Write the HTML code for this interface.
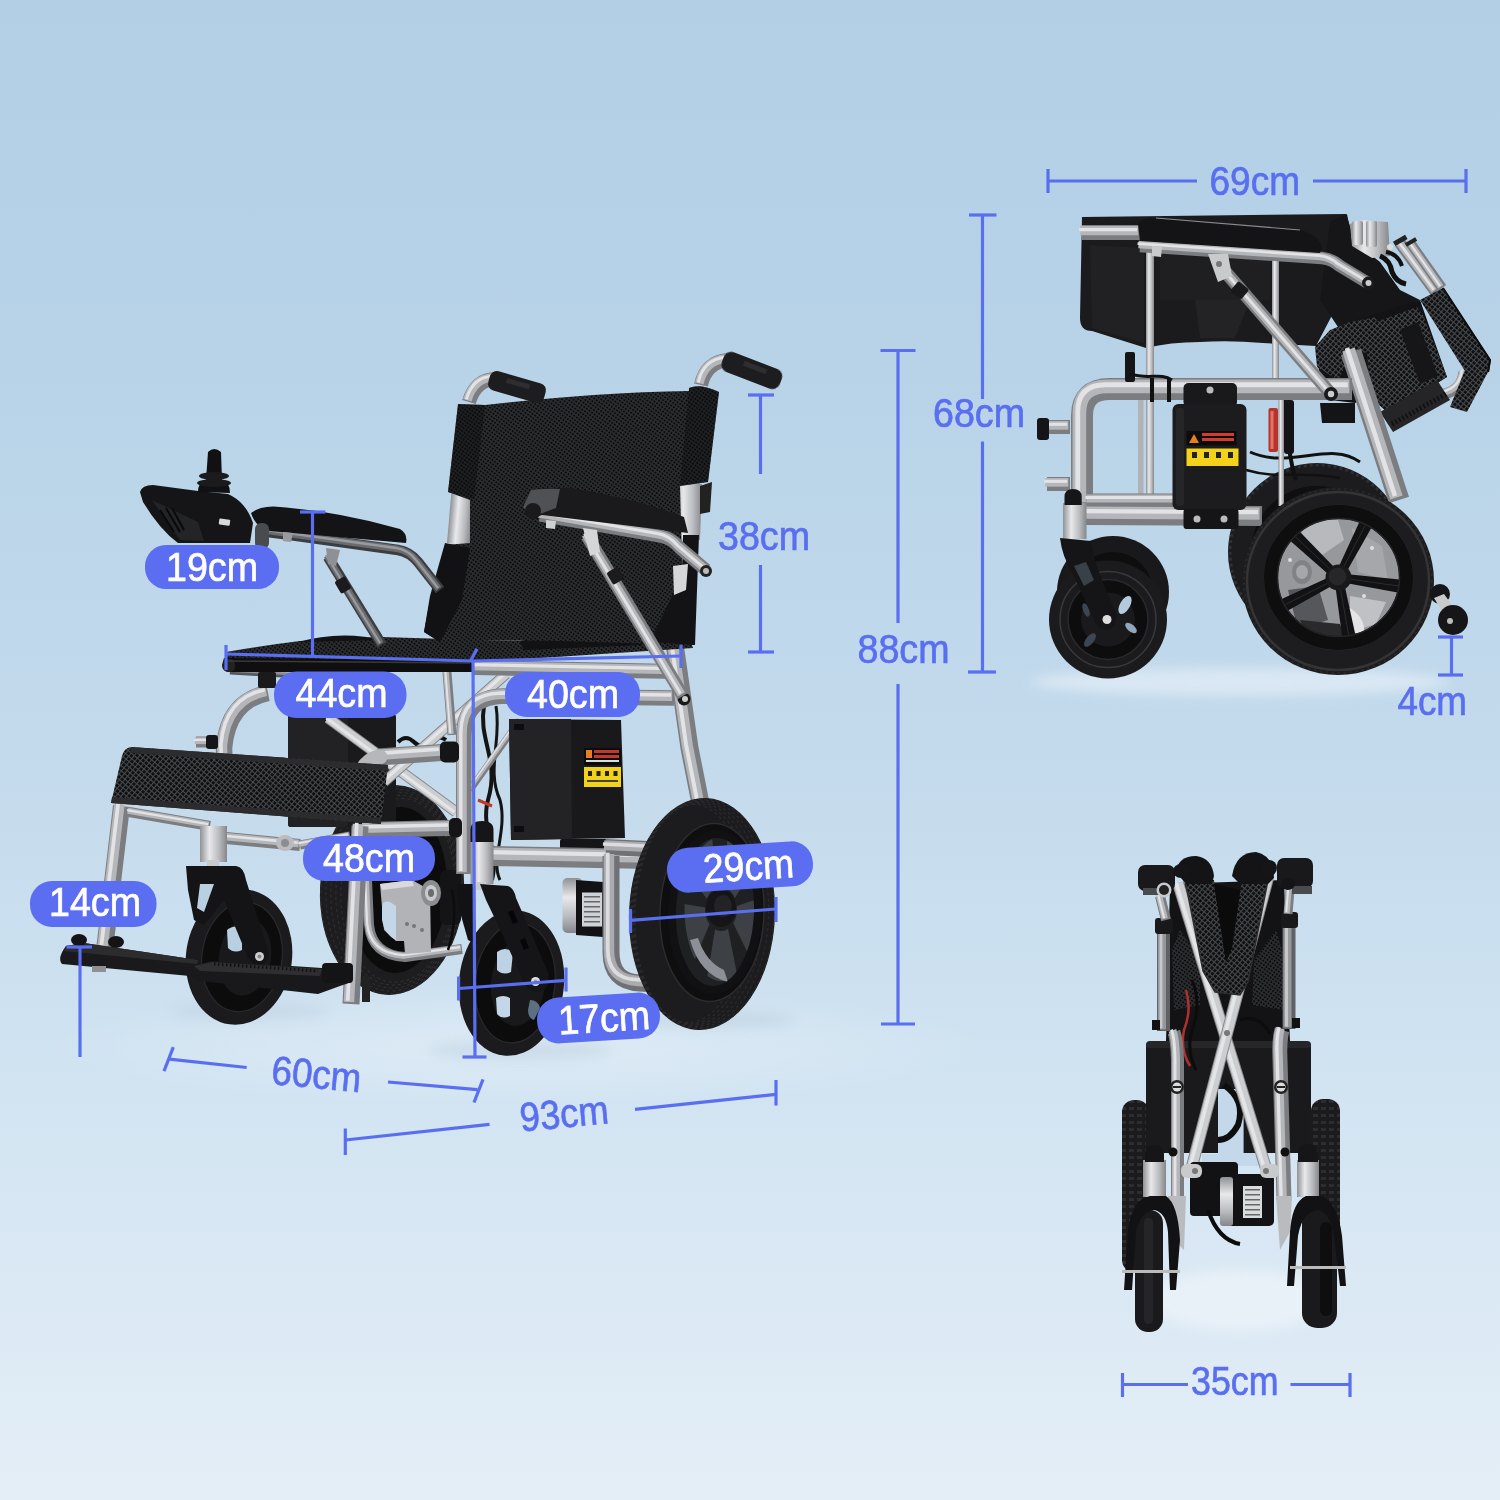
<!DOCTYPE html>
<html><head><meta charset="utf-8"><title>Wheelchair dimensions</title>
<style>
html,body{margin:0;padding:0;width:1500px;height:1500px;overflow:hidden;background:#b3d0e6}
svg{display:block;position:absolute;left:0;top:0}
text{font-family:"Liberation Sans",sans-serif}
.dl{stroke:#5a6ef0;stroke-width:3.2;fill:none;stroke-linecap:butt}
.bt{fill:#5a6ef0;font-size:40.5px;stroke:#5a6ef0;stroke-width:0.7px}
.wt{fill:#fff;font-size:40.5px;stroke:#fff;stroke-width:0.7px}
.pill{fill:#5b6df0}
</style></head><body>
<svg width="1500" height="1500" viewBox="0 0 1500 1500">
<defs>
<linearGradient id="bgv" x1="0" y1="0" x2="0" y2="1">
<stop offset="0" stop-color="#b2cfe6"/>
<stop offset="0.25" stop-color="#b8d3e8"/>
<stop offset="0.5" stop-color="#c3daec"/>
<stop offset="0.667" stop-color="#cde1f0"/>
<stop offset="0.733" stop-color="#d2e4f2"/>
<stop offset="0.867" stop-color="#dbe9f4"/>
<stop offset="1" stop-color="#e4eef7"/>
</linearGradient>
<radialGradient id="bgr" gradientUnits="userSpaceOnUse" cx="0" cy="0" r="1" gradientTransform="translate(520 1045) scale(480 60)">
<stop offset="0" stop-color="#ffffff" stop-opacity="0.28"/>
<stop offset="0.6" stop-color="#ffffff" stop-opacity="0.14"/>
<stop offset="1" stop-color="#ffffff" stop-opacity="0"/>
</radialGradient>
<pattern id="mesh" width="3.2" height="3.2" patternUnits="userSpaceOnUse" patternTransform="rotate(35)">
<rect width="3.2" height="3.2" fill="#2c2e31"/><circle cx="1.6" cy="1.6" r="1.08" fill="#09090a"/>
</pattern>
<pattern id="mesh2" width="4" height="4" patternUnits="userSpaceOnUse" patternTransform="rotate(40)">
<rect width="4" height="4" fill="#0d0d0e"/><rect x="0" y="0" width="4" height="1.1" fill="#47494d"/><rect x="0" y="0" width="1.1" height="4" fill="#47494d"/>
</pattern>
<linearGradient id="silv" x1="0" y1="0" x2="1" y2="0">
<stop offset="0" stop-color="#8f9195"/><stop offset="0.35" stop-color="#e9e9eb"/><stop offset="0.7" stop-color="#b9bbbe"/><stop offset="1" stop-color="#84868a"/>
</linearGradient>
<linearGradient id="silh" x1="0" y1="0" x2="0" y2="1">
<stop offset="0" stop-color="#8f9195"/><stop offset="0.35" stop-color="#e9e9eb"/><stop offset="0.7" stop-color="#b9bbbe"/><stop offset="1" stop-color="#84868a"/>
</linearGradient>
<filter id="blur6" x="-20%" y="-100%" width="140%" height="300%"><feGaussianBlur stdDeviation="6"/></filter>
<pattern id="tread" width="8" height="7" patternUnits="userSpaceOnUse"><rect width="8" height="7" fill="#1b1b1d"/><rect x="1" y="1" width="5" height="3" fill="#2d2d30"/></pattern>
</defs>
<!-- BG -->
<rect width="1500" height="1500" fill="url(#bgv)"/>
<rect width="1500" height="1500" fill="url(#bgr)"/>
<g id="chair1">
<g opacity="0.25">
<ellipse cx="520" cy="1050" rx="90" ry="9" fill="#9fb4c8" filter="url(#blur6)"/>
<ellipse cx="250" cy="1012" rx="80" ry="8" fill="#a9bdd0" filter="url(#blur6)"/>
<ellipse cx="720" cy="1020" rx="75" ry="8" fill="#9fb4c8" filter="url(#blur6)"/>
</g>
<ellipse cx="392" cy="890" rx="72" ry="105" fill="#1d1d1f" transform="rotate(3 392 890)" />
<g transform="rotate(3 392 890)" fill="none" stroke="#2e2e31" stroke-width="1.2">
<ellipse cx="392" cy="890" rx="71" ry="104" stroke-dasharray="3 3"/>
<ellipse cx="393.5" cy="890" rx="67.5" ry="101" stroke-dasharray="3 3"/>
<ellipse cx="395" cy="890" rx="64" ry="98" stroke-dasharray="3 3"/>
<ellipse cx="396.5" cy="890" rx="60.5" ry="95" stroke-dasharray="3 3"/>
<ellipse cx="398" cy="890" rx="57" ry="92" stroke-dasharray="3 3"/>
</g>
<ellipse cx="398" cy="890" rx="49" ry="83" fill="#0c0c0d" transform="rotate(3 398 890)" />
<path d="M367 880 L369 925 Q372 955 405 957 L462 949" fill="none" stroke="#7b7d81" stroke-width="10" stroke-linecap="butt" stroke-linejoin="round"/>
<path d="M367 880 L369 925 Q372 955 405 957 L462 949" fill="none" stroke="#b4b6b9" stroke-width="6.2" stroke-linecap="butt" stroke-linejoin="round" transform="translate(-1.2 -1.2)"/>
<path d="M367 880 L369 925 Q372 955 405 957 L462 949" fill="none" stroke="#e3e3e5" stroke-width="2.2" stroke-linecap="butt" stroke-linejoin="round" transform="translate(-1.92 -1.92)"/>
<path d="M380 884 L412 880 L430 890 L431 952 L405 954 L404 941 L396 941 L384 930 Z" fill="#b1b3b6" />
<path d="M382 908 Q382 900 390 902 L396 906 L396 940 Q384 934 382 920 Z" fill="#c3d7e8" />
<path d="M380 884 L412 880 L414 886 L382 890 Z" fill="#d9dadc" />
<ellipse cx="407" cy="924" rx="2" ry="2" fill="#777" />
<ellipse cx="414" cy="926" rx="2" ry="2" fill="#777" />
<ellipse cx="422" cy="930" rx="2" ry="2" fill="#777" />
<rect x="440" y="870" width="21" height="55" rx="6" fill="#141416" />
<ellipse cx="431" cy="893" rx="10" ry="13" fill="#8a8c90" />
<ellipse cx="431" cy="893" rx="6" ry="8" fill="#c9cacc" />
<ellipse cx="431" cy="893" rx="3" ry="4" fill="#6a6c70" />
<path d="M452 890 q6 30 -4 60" fill="none" stroke="#0c0c0c" stroke-width="2.5"/>
<rect x="288" y="714" width="108" height="113" rx="3" fill="#1a1a1c" />
<rect x="288" y="714" width="60" height="113" rx="3" fill="#222224" />
<path d="M398 742 q8 -8 16 0 t16 0 t16 -2" fill="none" stroke="#111" stroke-width="4"/>
<path d="M398 756 q8 -8 16 0 t16 0 t14 -2" fill="none" stroke="#111" stroke-width="3"/>
<path d="M484 706 C478 740 500 760 488 800 C480 830 500 850 492 880" fill="none" stroke="#141414" stroke-width="4"/>
<path d="M496 706 C502 740 486 770 500 800 C508 830 490 860 500 880" fill="none" stroke="#141414" stroke-width="3"/>
<path d="M478 800 l14 6" fill="none" stroke="#c0392b" stroke-width="3"/>
<path d="M328 718 L456 812" fill="none" stroke="#85878b" stroke-width="11"/>
<path d="M328 718 L456 812" fill="none" stroke="#cbcdd0" stroke-width="9"/>
<path d="M328 718 L456 812" fill="none" stroke="#e4e5e7" stroke-width="3.3" transform="translate(-1.65 0)"/>
<path d="M506 674 L384 782" fill="none" stroke="#85878b" stroke-width="11"/>
<path d="M506 674 L384 782" fill="none" stroke="#cbcdd0" stroke-width="9"/>
<path d="M506 674 L384 782" fill="none" stroke="#e4e5e7" stroke-width="3.3" transform="translate(-1.65 0)"/>
<path d="M520 720 L470 790" fill="none" stroke="#7b7d81" stroke-width="7" stroke-linecap="butt" stroke-linejoin="round"/>
<path d="M520 720 L470 790" fill="none" stroke="#b4b6b9" stroke-width="4.34" stroke-linecap="butt" stroke-linejoin="round" transform="translate(-0.84 -0.84)"/>
<path d="M520 720 L470 790" fill="none" stroke="#e3e3e5" stroke-width="1.54" stroke-linecap="butt" stroke-linejoin="round" transform="translate(-1.344 -1.344)"/>
<path d="M447 672 L452 735" fill="none" stroke="#7b7d81" stroke-width="9" stroke-linecap="butt" stroke-linejoin="round"/>
<path d="M447 672 L452 735" fill="none" stroke="#b4b6b9" stroke-width="5.58" stroke-linecap="butt" stroke-linejoin="round" transform="translate(-1.08 -1.08)"/>
<path d="M447 672 L452 735" fill="none" stroke="#e3e3e5" stroke-width="1.98" stroke-linecap="butt" stroke-linejoin="round" transform="translate(-1.728 -1.728)"/>
<polygon points="509,719 621,720 625,838 511,840" fill="#19191b" />
<polygon points="509,719 571,719 572,839 511,840" fill="#232325" />
<rect x="584" y="748" width="37" height="17" rx="0" fill="#0c0c0c" />
<rect x="586" y="750" width="6" height="8" rx="0" fill="#e67e22" />
<rect x="594" y="750" width="25" height="3" rx="0" fill="#c0392b" />
<rect x="594" y="755" width="25" height="3" rx="0" fill="#c0392b" />
<rect x="586" y="760" width="33" height="2" rx="0" fill="#ddd" />
<rect x="584" y="767" width="37" height="20" rx="0" fill="#f2d21b" />
<rect x="588" y="771" width="4" height="5" rx="0" fill="#222" />
<rect x="596.5" y="771" width="4" height="5" rx="0" fill="#222" />
<rect x="605" y="771" width="4" height="5" rx="0" fill="#222" />
<rect x="613.5" y="771" width="4" height="5" rx="0" fill="#222" />
<rect x="587" y="780" width="31" height="2" rx="0" fill="#444" />
<rect x="560" y="839" width="47" height="25" rx="2" fill="#151517" />
<ellipse cx="578" cy="853" rx="3.5" ry="3.5" fill="#bbb" />
<ellipse cx="596" cy="853" rx="3.5" ry="3.5" fill="#bbb" />
<rect x="514" y="724" width="10" height="6" rx="0" fill="#0d0d0d" />
<rect x="514" y="826" width="10" height="6" rx="0" fill="#0d0d0d" />
<path d="M492 856 L650 859" fill="none" stroke="#7b7d81" stroke-width="20" stroke-linecap="butt" stroke-linejoin="round"/>
<path d="M492 856 L650 859" fill="none" stroke="#b4b6b9" stroke-width="12.4" stroke-linecap="butt" stroke-linejoin="round" transform="translate(-2.4 -2.4)"/>
<path d="M492 856 L650 859" fill="none" stroke="#e3e3e5" stroke-width="4.4" stroke-linecap="butt" stroke-linejoin="round" transform="translate(-3.84 -3.84)"/>
<path d="M463.8 874 L463.8 736 Q463.8 697 504 696 L674 698" fill="none" stroke="#7b7d81" stroke-width="15.5" stroke-linecap="butt" stroke-linejoin="round"/>
<path d="M463.8 874 L463.8 736 Q463.8 697 504 696 L674 698" fill="none" stroke="#b4b6b9" stroke-width="9.61" stroke-linecap="butt" stroke-linejoin="round" transform="translate(-1.86 -1.86)"/>
<path d="M463.8 874 L463.8 736 Q463.8 697 504 696 L674 698" fill="none" stroke="#e3e3e5" stroke-width="3.41" stroke-linecap="butt" stroke-linejoin="round" transform="translate(-2.976 -2.976)"/>
<path d="M378 757 L442 752.5" fill="none" stroke="#7b7d81" stroke-width="17" stroke-linecap="butt" stroke-linejoin="round"/>
<path d="M378 757 L442 752.5" fill="none" stroke="#b4b6b9" stroke-width="10.54" stroke-linecap="butt" stroke-linejoin="round" transform="translate(-2.04 -2.04)"/>
<path d="M378 757 L442 752.5" fill="none" stroke="#e3e3e5" stroke-width="3.74" stroke-linecap="butt" stroke-linejoin="round" transform="translate(-3.264 -3.264)"/>
<path d="M380 757 Q368 759 362 770" fill="none" stroke="#b5b7ba" stroke-width="15" stroke-linecap="round"/>
<rect x="440" y="741.5" width="19" height="21" rx="5" fill="#151517" />
<path d="M364 830 L451 828" fill="none" stroke="#7b7d81" stroke-width="16" stroke-linecap="butt" stroke-linejoin="round"/>
<path d="M364 830 L451 828" fill="none" stroke="#b4b6b9" stroke-width="9.92" stroke-linecap="butt" stroke-linejoin="round" transform="translate(-1.92 -1.92)"/>
<path d="M364 830 L451 828" fill="none" stroke="#e3e3e5" stroke-width="3.52" stroke-linecap="butt" stroke-linejoin="round" transform="translate(-3.072 -3.072)"/>
<rect x="449" y="818" width="13" height="19.5" rx="5" fill="#151517" />
<path d="M474 667.5 L676 671.5" fill="none" stroke="#7b7d81" stroke-width="15" stroke-linecap="butt" stroke-linejoin="round"/>
<path d="M474 667.5 L676 671.5" fill="none" stroke="#b4b6b9" stroke-width="9.3" stroke-linecap="butt" stroke-linejoin="round" transform="translate(-1.8 -1.8)"/>
<path d="M474 667.5 L676 671.5" fill="none" stroke="#e3e3e5" stroke-width="3.3" stroke-linecap="butt" stroke-linejoin="round" transform="translate(-2.88 -2.88)"/>
<path d="M674 640 L689.5 748 L701 806" fill="none" stroke="#7b7d81" stroke-width="18" stroke-linecap="butt" stroke-linejoin="round"/>
<path d="M674 640 L689.5 748 L701 806" fill="none" stroke="#b4b6b9" stroke-width="11.16" stroke-linecap="butt" stroke-linejoin="round" transform="translate(-2.16 -2.16)"/>
<path d="M674 640 L689.5 748 L701 806" fill="none" stroke="#e3e3e5" stroke-width="3.96" stroke-linecap="butt" stroke-linejoin="round" transform="translate(-3.456 -3.456)"/>
<ellipse cx="684" cy="699" rx="6.5" ry="6.5" fill="#1a1a1c" />
<ellipse cx="685" cy="699" rx="3" ry="3" fill="#ccc" />
<path d="M268 693 Q228 701 224 748 L225 770" fill="none" stroke="#7b7d81" stroke-width="16.5" stroke-linecap="butt" stroke-linejoin="round"/>
<path d="M268 693 Q228 701 224 748 L225 770" fill="none" stroke="#b4b6b9" stroke-width="10.23" stroke-linecap="butt" stroke-linejoin="round" transform="translate(-1.98 -1.98)"/>
<path d="M268 693 Q228 701 224 748 L225 770" fill="none" stroke="#e3e3e5" stroke-width="3.63" stroke-linecap="butt" stroke-linejoin="round" transform="translate(-3.168 -3.168)"/>
<path d="M230 670 L300 674" fill="none" stroke="#55575a" stroke-width="9" stroke-linecap="butt" stroke-linejoin="round"/>
<path d="M230 670 L300 674" fill="none" stroke="#8c8e91" stroke-width="5.58" stroke-linecap="butt" stroke-linejoin="round" transform="translate(-1.08 -1.08)"/>
<path d="M230 670 L300 674" fill="none" stroke="#b5b6b8" stroke-width="1.98" stroke-linecap="butt" stroke-linejoin="round" transform="translate(-1.728 -1.728)"/>
<rect x="258" y="672" width="18" height="16" rx="2" fill="#1a1a1c" />
<path d="M196 742 L214 742" fill="none" stroke="#7b7d81" stroke-width="11" stroke-linecap="butt" stroke-linejoin="round"/>
<path d="M196 742 L214 742" fill="none" stroke="#b4b6b9" stroke-width="6.82" stroke-linecap="butt" stroke-linejoin="round" transform="translate(-1.32 -1.32)"/>
<path d="M196 742 L214 742" fill="none" stroke="#e3e3e5" stroke-width="2.42" stroke-linecap="butt" stroke-linejoin="round" transform="translate(-2.112 -2.112)"/>
<rect x="206" y="735" width="12" height="14" rx="3" fill="#151517" />
<rect x="470.5" y="840" width="23" height="44" rx="0" fill="url(#silv)" />
<path d="M470.5 842 L470.5 830 Q470.5 821 482 821 Q493.5 821 493.5 830 L493.5 842 Z" fill="#161618" />
<rect x="476" y="882" width="10" height="8" rx="0" fill="#c9cacc" />
<path d="M226 652 Q260 646 300 641 L382 637 L480 640 L560 641 L690 640 L693 648 L480 662 L228 662 Z" fill="url(#mesh)" />
<path d="M298 642 Q340 630 384 640 Z" fill="#131315" />
<path d="M224 658 L472 660 L472 672 L230 672 Q222 672 222 665 Z" fill="#0f0f10" />
<rect x="223" y="659" width="12" height="13" rx="5" fill="#222" />
<path d="M228 661 L470 663" fill="none" stroke="#3a3a3c" stroke-width="1.5"/>
<path d="M520 642 Q540 630 580 634 L640 632 L642 645 L524 650 Z" fill="#121214" />
<rect x="449" y="494" width="23" height="50" rx="0" fill="url(#silv)" transform="rotate(5 460 520)"/>
<polygon points="675,482 702,484 700,540 673,538" fill="url(#silv)" />
<polygon points="700,486 712,482 710,512 700,514" fill="#222" />
<rect x="672" y="565" width="16" height="34" rx="0" fill="url(#silv)" transform="rotate(6 680 582)"/>
<path d="M458 404 L485 405 Q600 392 689 391 L689 388 Q700 383 719 392 L708 482 L680 486 L682 560 L694 645 L560 641 L480 640 L440 642 L424 632 L430 600 L445 545 L470 543 L470 500 L448 492 Z" fill="url(#mesh)" />
<path d="M458 404 L485 405 L474 499 L448 492 Z" fill="#0d0d0e" opacity="0.45"/>
<path d="M689 388 Q700 383 719 392 L708 482 L680 486 Z" fill="#0d0d0e" opacity="0.4"/>
<path d="M445 543 L470 548 L462 600 L440 642 L424 632 L430 596 Z" fill="#121214" />
<path d="M683 535 L699 535 L697 590 L695 645 L650 642 L682 575 Z" fill="#131315" />
<path d="M673 566 L688 564 L686 590 L674 595 Z" fill="#d5d6d8" />
<path d="M469 402 Q476 378 498 379" fill="none" stroke="#7b7d81" stroke-width="14" stroke-linecap="butt" stroke-linejoin="round"/>
<path d="M469 402 Q476 378 498 379" fill="none" stroke="#b4b6b9" stroke-width="8.68" stroke-linecap="butt" stroke-linejoin="round" transform="translate(-1.68 -1.68)"/>
<path d="M469 402 Q476 378 498 379" fill="none" stroke="#e3e3e5" stroke-width="3.08" stroke-linecap="butt" stroke-linejoin="round" transform="translate(-2.688 -2.688)"/>
<g transform="rotate(16 517 387)"><rect x="488" y="377" width="58" height="20" rx="7" fill="#1d1d1f"/><rect x="505" y="381" width="24" height="5" fill="#2e2e30"/></g>
<path d="M701 385 Q706 362 728 360" fill="none" stroke="#7b7d81" stroke-width="14" stroke-linecap="butt" stroke-linejoin="round"/>
<path d="M701 385 Q706 362 728 360" fill="none" stroke="#b4b6b9" stroke-width="8.68" stroke-linecap="butt" stroke-linejoin="round" transform="translate(-1.68 -1.68)"/>
<path d="M701 385 Q706 362 728 360" fill="none" stroke="#e3e3e5" stroke-width="3.08" stroke-linecap="butt" stroke-linejoin="round" transform="translate(-2.688 -2.688)"/>
<g transform="rotate(21 752 370)"><rect x="721" y="360" width="62" height="21" rx="8" fill="#1d1d1f"/><rect x="742" y="364" width="24" height="5" fill="#2e2e30"/></g>
<path d="M268 532 L398 550 Q410 552 418 562 L440 590" fill="none" stroke="#3c3d40" stroke-width="10.5" stroke-linecap="butt" stroke-linejoin="round"/>
<path d="M268 532 L398 550 Q410 552 418 562 L440 590" fill="none" stroke="#6b6c70" stroke-width="6.51" stroke-linecap="butt" stroke-linejoin="round" transform="translate(-1.26 -1.26)"/>
<path d="M268 532 L398 550 Q410 552 418 562 L440 590" fill="none" stroke="#9a9b9f" stroke-width="2.31" stroke-linecap="butt" stroke-linejoin="round" transform="translate(-2.016 -2.016)"/>
<path d="M328 557 L382 645" fill="none" stroke="#3c3d40" stroke-width="10.5" stroke-linecap="butt" stroke-linejoin="round"/>
<path d="M328 557 L382 645" fill="none" stroke="#6b6c70" stroke-width="6.51" stroke-linecap="butt" stroke-linejoin="round" transform="translate(-1.26 -1.26)"/>
<path d="M328 557 L382 645" fill="none" stroke="#9a9b9f" stroke-width="2.31" stroke-linecap="butt" stroke-linejoin="round" transform="translate(-2.016 -2.016)"/>
<rect x="337" y="578" width="12" height="14" rx="2" fill="#1b1b1d" transform="rotate(-30 343 585)"/>
<path d="M326 548 L340 550 L336 566 L328 564 Z" fill="#8e9094" />
<path d="M251 513 Q262 505 280 507 Q340 512 400 529 Q408 534 406 543 L270 531 Q256 528 251 513 Z" fill="#141416" />
<rect x="255" y="523" width="14" height="26" rx="6" fill="#4a4b4e" />
<path d="M283 532 l10 1 l-2 9 l-8 -1 Z" fill="#999b9e" />
<path d="M140 492 Q142 485 153 485 L198 491 L228 494 Q246 502 253 523 L250 543 L178 543 Q160 530 143 502 Z" fill="#151517" />
<path d="M152 500 L180 540 L204 541 L198 522 Z" fill="#232427" />
<path d="M160 510 l14 22 M166 508 l14 24 M172 508 l12 22" fill="none" stroke="#0a0a0b" stroke-width="2"/>
<rect x="219" y="519" width="11" height="6" rx="1" fill="#d8d8d8" transform="rotate(8 224 522)"/>
<path d="M198 492 Q198 482 206 480 L208 452 Q214 446 221 452 L222 480 Q230 482 230 493 Z" fill="#111113" />
<ellipse cx="214" cy="476" rx="15" ry="4" fill="#1b1b1d" />
<ellipse cx="214" cy="483" rx="17" ry="4" fill="#1b1b1d" />
<path d="M540 515 L660 536 Q672 538 680 548 L706 570" fill="none" stroke="#7b7d81" stroke-width="13" stroke-linecap="butt" stroke-linejoin="round"/>
<path d="M540 515 L660 536 Q672 538 680 548 L706 570" fill="none" stroke="#b4b6b9" stroke-width="8.06" stroke-linecap="butt" stroke-linejoin="round" transform="translate(-1.56 -1.56)"/>
<path d="M540 515 L660 536 Q672 538 680 548 L706 570" fill="none" stroke="#e3e3e5" stroke-width="2.86" stroke-linecap="butt" stroke-linejoin="round" transform="translate(-2.496 -2.496)"/>
<ellipse cx="706" cy="571" rx="6" ry="6" fill="#222" />
<ellipse cx="706" cy="571" rx="3" ry="3" fill="#bbb" />
<path d="M587 536 L683 696" fill="none" stroke="#7b7d81" stroke-width="13" stroke-linecap="butt" stroke-linejoin="round"/>
<path d="M587 536 L683 696" fill="none" stroke="#b4b6b9" stroke-width="8.06" stroke-linecap="butt" stroke-linejoin="round" transform="translate(-1.56 -1.56)"/>
<path d="M587 536 L683 696" fill="none" stroke="#e3e3e5" stroke-width="2.86" stroke-linecap="butt" stroke-linejoin="round" transform="translate(-2.496 -2.496)"/>
<path d="M583 528 L597 530 L600 552 L590 556 Z" fill="#d5d6d8" />
<rect x="609" y="569" width="13" height="14" rx="2" fill="#1b1b1d" transform="rotate(-30 615 576)"/>
<path d="M523 507 L531 490 Q550 487 572 488 Q640 500 684 517 L688 533 L542 515 Q530 520 523 507 Z" fill="#1a1a1c" />
<path d="M523 507 L531 490 Q545 488 560 489 L556 508 L540 514 Q530 518 523 507 Z" fill="#505154" />
<ellipse cx="533" cy="511" rx="8" ry="8" fill="#1a1a1c" />
<path d="M546 520 l10 1 l-1 8 l-9 -1 Z" fill="#d0d1d3" />
<path d="M121.5 806 L104.5 950" fill="none" stroke="#7b7d81" stroke-width="17" stroke-linecap="butt" stroke-linejoin="round"/>
<path d="M121.5 806 L104.5 950" fill="none" stroke="#b4b6b9" stroke-width="10.54" stroke-linecap="butt" stroke-linejoin="round" transform="translate(-2.04 -2.04)"/>
<path d="M121.5 806 L104.5 950" fill="none" stroke="#e3e3e5" stroke-width="3.74" stroke-linecap="butt" stroke-linejoin="round" transform="translate(-3.264 -3.264)"/>
<path d="M129 812 L210 826" fill="none" stroke="#7b7d81" stroke-width="10" stroke-linecap="butt" stroke-linejoin="round"/>
<path d="M129 812 L210 826" fill="none" stroke="#b4b6b9" stroke-width="6.2" stroke-linecap="butt" stroke-linejoin="round" transform="translate(-1.2 -1.2)"/>
<path d="M129 812 L210 826" fill="none" stroke="#e3e3e5" stroke-width="2.2" stroke-linecap="butt" stroke-linejoin="round" transform="translate(-1.92 -1.92)"/>
<path d="M226 838 L300 845" fill="none" stroke="#7b7d81" stroke-width="12" stroke-linecap="butt" stroke-linejoin="round"/>
<path d="M226 838 L300 845" fill="none" stroke="#b4b6b9" stroke-width="7.44" stroke-linecap="butt" stroke-linejoin="round" transform="translate(-1.44 -1.44)"/>
<path d="M226 838 L300 845" fill="none" stroke="#e3e3e5" stroke-width="2.64" stroke-linecap="butt" stroke-linejoin="round" transform="translate(-2.304 -2.304)"/>
<path d="M300 845 L350 836" fill="none" stroke="#7b7d81" stroke-width="9" stroke-linecap="butt" stroke-linejoin="round"/>
<path d="M300 845 L350 836" fill="none" stroke="#b4b6b9" stroke-width="5.58" stroke-linecap="butt" stroke-linejoin="round" transform="translate(-1.08 -1.08)"/>
<path d="M300 845 L350 836" fill="none" stroke="#e3e3e5" stroke-width="1.98" stroke-linecap="butt" stroke-linejoin="round" transform="translate(-1.728 -1.728)"/>
<ellipse cx="285" cy="843" rx="9" ry="8" fill="#b9bbbe" />
<ellipse cx="285" cy="843" rx="4" ry="4" fill="#8b8d90" />
<rect x="200" y="826" width="27" height="36" rx="0" fill="url(#silv)" />
<rect x="207" y="860" width="12" height="8" rx="0" fill="#c9cacc" />
<path d="M360 826 L351 1004" fill="none" stroke="#7b7d81" stroke-width="17" stroke-linecap="butt" stroke-linejoin="round"/>
<path d="M360 826 L351 1004" fill="none" stroke="#b4b6b9" stroke-width="10.54" stroke-linecap="butt" stroke-linejoin="round" transform="translate(-2.04 -2.04)"/>
<path d="M360 826 L351 1004" fill="none" stroke="#e3e3e5" stroke-width="3.74" stroke-linecap="butt" stroke-linejoin="round" transform="translate(-3.264 -3.264)"/>
<rect x="362" y="976" width="8" height="26" rx="0" fill="#222" />
<ellipse cx="239" cy="957" rx="53" ry="68" fill="#1b1b1d" transform="rotate(8 239 957)" />
<ellipse cx="242" cy="957" rx="40" ry="55" fill="#0c0c0d" transform="rotate(8 242 957)" stroke="#2a2a2d" stroke-width="1.2"/>
<ellipse cx="245" cy="957" rx="26" ry="39" fill="#19191b" transform="rotate(8 245 957)" />
<path d="M227 930 Q234 924 242 928 L242 950 Q234 954 228 948 Z" fill="#b9cfe2" />
<path d="M224 975 q4 -3 8 0 l0 8 q-4 2 -8 -2 Z" fill="#dfe6ee" />
<path d="M186 866 L236 866 Q244 867 246 880 L268 950 Q270 963 260 965 Q250 965 246 953 L224 900 L204 925 L194 920 L188 890 Z" fill="#141416" />
<path d="M200 884 L214 884 L204 912 L197 908 Z" fill="#b9cfe2" />
<ellipse cx="259.5" cy="956.5" rx="4.5" ry="4.5" fill="#cfcfcf" />
<ellipse cx="259.5" cy="956.5" rx="2" ry="2" fill="#888" />
<path d="M131 747 Q124 748 122 756 L111 803 L381 824 L388 765 Z" fill="url(#mesh2)" />
<path d="M131 747 L388 765 L387 771 L130 753 Z" fill="#2c2c2f" />
<path d="M112 797 L381 818 L381 824 L111 803 Z" fill="#2c2c2f" />
<path d="M66 946 L84 943 L198 960 L198 975 L190 976 L62 964 Q57 958 66 946 Z" fill="#1a1a1c" />
<path d="M66 946 L84 943 L198 960 L197 964 L64 951 Z" fill="#2c2c2f" />
<path d="M192 966 L212 961 L322 968 L352 966 L352 982 L340 986 L318 994 L200 981 L192 976 Z" fill="#19191b" />
<path d="M194 966 L212 962 L322 969 L320 976 L200 971 Z" fill="#2f2f32" />
<path d="M214 964 L318 971" fill="none" stroke="#111" stroke-width="3" stroke-dasharray="1.5 2.5"/>
<rect x="322" y="963" width="31" height="20" rx="4" fill="#141416" />
<ellipse cx="79" cy="940" rx="8" ry="6" fill="#141416" />
<ellipse cx="116" cy="942" rx="8" ry="6" fill="#141416" />
<rect x="92" y="966" width="14" height="6" rx="0" fill="#8e9094" />
<ellipse cx="511.5" cy="983" rx="52.5" ry="73" fill="#1b1b1d" transform="rotate(6 511.5 983)" />
<ellipse cx="515" cy="983" rx="40" ry="60" fill="#0c0c0d" transform="rotate(6 515 983)" stroke="#2a2a2d" stroke-width="1.2"/>
<ellipse cx="518" cy="983" rx="27" ry="43" fill="#19191b" transform="rotate(6 518 983)" />
<path d="M497 952 Q505 946 513 952 L511 972 Q503 976 497 970 Z" fill="#bdd2e4" />
<path d="M496 998 Q503 994 510 998 L510 1016 Q502 1020 497 1014 Z" fill="#c3d7e8" />
<path d="M530 1000 Q538 1000 540 1008 L534 1020 Q528 1018 528 1010 Z" fill="#5d7083" />
<path d="M457 884 L474 884 L476 944 L468 940 L458 905 Z" fill="#121214" />
<path d="M480 884 L508 886 Q514 888 516 898 L548 972 Q551 990 538 992 Q527 992 523 980 L498 925 L486 900 Z" fill="#151517" />
<path d="M508 912 l5 -2 l5 12 l-5 2 Z M520 940 l5 -2 l4 10 l-5 2 Z" fill="#060607" />
<ellipse cx="535.5" cy="981.5" rx="4.5" ry="4.5" fill="#e0e0e0" />
<ellipse cx="535.5" cy="981.5" rx="2" ry="2" fill="#999" />
<rect x="562.5" y="878" width="20" height="55" rx="5" fill="url(#silh)" />
<path d="M576 880 L603 882 L603 937 L576 935 Z" fill="#121214" />
<rect x="582" y="892.5" width="20" height="34" rx="0" fill="#cfd2d6" />
<rect x="584" y="896" width="16" height="1.5" rx="0" fill="#666" />
<rect x="584" y="901" width="16" height="1.5" rx="0" fill="#666" />
<rect x="584" y="906" width="16" height="1.5" rx="0" fill="#666" />
<rect x="584" y="911" width="16" height="1.5" rx="0" fill="#666" />
<rect x="584" y="916" width="16" height="1.5" rx="0" fill="#666" />
<rect x="584" y="921" width="16" height="1.5" rx="0" fill="#666" />
<path d="M606 847 L648 849" fill="none" stroke="#6f7175" stroke-width="16" stroke-linecap="butt" stroke-linejoin="round"/>
<path d="M606 847 L648 849" fill="none" stroke="#a9abae" stroke-width="9.92" stroke-linecap="butt" stroke-linejoin="round" transform="translate(-1.92 -1.92)"/>
<path d="M606 847 L648 849" fill="none" stroke="#dcdcde" stroke-width="3.52" stroke-linecap="butt" stroke-linejoin="round" transform="translate(-3.072 -3.072)"/>
<path d="M611 856 L611 952 Q611 982 640 983 L656 984" fill="none" stroke="#6f7175" stroke-width="17" stroke-linecap="butt" stroke-linejoin="round"/>
<path d="M611 856 L611 952 Q611 982 640 983 L656 984" fill="none" stroke="#a9abae" stroke-width="10.54" stroke-linecap="butt" stroke-linejoin="round" transform="translate(-2.04 -2.04)"/>
<path d="M611 856 L611 952 Q611 982 640 983 L656 984" fill="none" stroke="#dcdcde" stroke-width="3.74" stroke-linecap="butt" stroke-linejoin="round" transform="translate(-3.264 -3.264)"/>
<ellipse cx="702" cy="914" rx="73" ry="116" fill="#1c1c1e" transform="rotate(2 702 914)" />
<g transform="rotate(2 702 914)" fill="none" stroke="#2b2b2e" stroke-width="1.2">
<ellipse cx="702" cy="914" rx="72" ry="115" stroke-dasharray="3 3"/>
<ellipse cx="699.8" cy="914" rx="68.8" ry="113.8" stroke-dasharray="3 3"/>
<ellipse cx="697.6" cy="914" rx="65.6" ry="112.6" stroke-dasharray="3 3"/>
<ellipse cx="695.4" cy="914" rx="62.4" ry="111.4" stroke-dasharray="3 3"/>
<ellipse cx="693.2" cy="914" rx="59.2" ry="110.2" stroke-dasharray="3 3"/>
<ellipse cx="691" cy="914" rx="56" ry="109" stroke-dasharray="3 3"/>
</g>
<ellipse cx="712" cy="912.5" rx="52" ry="89" fill="#0e0e0f" transform="rotate(2 712 912.5)" stroke="#2c2c2f" stroke-width="1.5"/>
<ellipse cx="715" cy="912" rx="43" ry="78" fill="#1f2022" transform="rotate(2 715 912)" />
<g fill="#3d4045">
<polygon points="727.341,837.897 732.285,840.334 737.008,844.107 741.421,849.143 745.435,855.345 748.974,862.591 751.969,870.74 734.856,898 733.608,895.455 732.115,893.175 730.405,891.202 728.512,889.575 726.472,888.327 724.327,887.481"/>
<polygon points="757.163,898.952 757.518,909 757.163,919.048 756.103,928.901 754.361,938.366 751.969,947.26 748.974,955.409 733.257,923.141 734.569,920.658 735.617,917.948 736.38,915.064 736.844,912.062 737,909 736.844,905.938"/>
<polygon points="737.008,973.893 732.285,977.666 727.341,980.103 722.274,981.156 717.183,980.804 712.165,979.055 707.32,975.943 715.006,929.398 717.129,930.347 719.328,930.879 721.558,930.987 723.778,930.666 725.944,929.923 728.014,928.773"/>
<polygon points="694.731,959.154 691.456,951.438 688.757,942.896 686.684,933.694 685.28,924.011 684.571,914.036 684.571,903.964 705.039,907.465 705.039,910.535 705.35,913.574 705.965,916.524 706.873,919.328 708.056,921.931 709.491,924.282"/>
<polygon points="688.757,875.104 691.456,866.562 694.731,858.846 698.517,852.106 702.741,846.473 707.32,842.057 712.165,838.945 717.129,887.653 715.006,888.602 713,889.947 711.149,891.664 709.491,893.718 708.056,896.069 706.873,898.672"/>
</g>
<path d="M690 940 Q700 975 728 982 L724 970 Q706 962 698 938 Z" fill="#8d9096" />
<ellipse cx="715" cy="912" rx="43" ry="78" fill="none" transform="rotate(2 715 912)" stroke="#111113" stroke-width="8"/>
<ellipse cx="721" cy="908" rx="15" ry="19" fill="#151517" />
<ellipse cx="723" cy="906" rx="9" ry="11" fill="#232326" />
</g>
<g id="chair2">
<g opacity="0.55">
<ellipse cx="1240" cy="682" rx="210" ry="14" fill="#eef4fa" filter="url(#blur6)"/>
</g>
<ellipse cx="1317" cy="552" rx="89" ry="89" fill="#1c1c1e" />
<ellipse cx="1317" cy="552" rx="87" ry="87" fill="none" stroke="#303033" stroke-width="3" stroke-dasharray="3 3"/>
<ellipse cx="1317" cy="552" rx="66" ry="66" fill="#0f0f10" />
<ellipse cx="1113" cy="592" rx="56" ry="56" fill="#19191b" />
<ellipse cx="1113" cy="592" rx="40" ry="40" fill="#0e0e0f" />
<rect x="1138" y="394" width="5.5" height="112" rx="0" fill="#b0b2b5" />
<path d="M1250 452 C1290 470 1330 440 1360 462" fill="none" stroke="#111" stroke-width="3"/>
<path d="M1246 470 C1280 480 1300 470 1340 478" fill="none" stroke="#111" stroke-width="2.5"/>
<path d="M1284 400 C1290 430 1286 450 1296 480" fill="none" stroke="#111" stroke-width="4"/>
<path d="M1082 217 L1346 214 L1352 232 L1340 300 L1316 346 L1263 343 Q1230 340 1200 342 Q1170 342 1146 348 L1092 331 Q1080 331 1080 318 Z" fill="#1b1b1d" />
<path d="M1195 300 L1222 275 L1250 300 L1235 338 L1200 338 Z" fill="#232326" />
<path d="M1090 245 L1144 248 L1144 343 L1092 328 Z" fill="#212124" />
<path d="M1160 250 L1270 258 L1270 300 L1160 300 Z" fill="#1f1f22" />
<rect x="1146" y="246" width="8" height="260" rx="0" fill="url(#silv)" />
<rect x="1272" y="258" width="7" height="130" rx="0" fill="url(#silv)" />
<rect x="1278.5" y="398" width="5.5" height="108" rx="0" fill="url(#silv)" />
<rect x="1284" y="400" width="10" height="54" rx="3" fill="#141416" />
<rect x="1268.5" y="408" width="9.5" height="44" rx="2" fill="#b8342a" />
<rect x="1270.5" y="411" width="3" height="38" rx="0" fill="#e57368" />
<path d="M1082 232.5 L1140 232.5" fill="none" stroke="#7b7d81" stroke-width="15" stroke-linecap="butt" stroke-linejoin="round"/>
<path d="M1082 232.5 L1140 232.5" fill="none" stroke="#b4b6b9" stroke-width="9.3" stroke-linecap="butt" stroke-linejoin="round" transform="translate(-1.8 -1.8)"/>
<path d="M1082 232.5 L1140 232.5" fill="none" stroke="#e3e3e5" stroke-width="3.3" stroke-linecap="butt" stroke-linejoin="round" transform="translate(-2.88 -2.88)"/>
<path d="M1330 222 L1347 214 L1352 240 L1380 262 L1400 290 L1420 300 L1376 322 L1340 330 L1320 300 Z" fill="#161618" />
<polygon points="1350,224 1360,220 1388,222 1390,256 1372,258 1352,246" fill="url(#silv)" />
<rect x="1352" y="221" width="11" height="24" rx="2" fill="url(#silv)" />
<rect x="1366" y="221" width="11" height="26" rx="2" fill="url(#silv)" />
<path d="M1400 243 L1436 292" fill="none" stroke="#7b7d81" stroke-width="12" stroke-linecap="butt" stroke-linejoin="round"/>
<path d="M1400 243 L1436 292" fill="none" stroke="#b4b6b9" stroke-width="7.44" stroke-linecap="butt" stroke-linejoin="round" transform="translate(-1.44 -1.44)"/>
<path d="M1400 243 L1436 292" fill="none" stroke="#e3e3e5" stroke-width="2.64" stroke-linecap="butt" stroke-linejoin="round" transform="translate(-2.304 -2.304)"/>
<path d="M1411 244 L1442 288" fill="none" stroke="#7b7d81" stroke-width="10" stroke-linecap="butt" stroke-linejoin="round"/>
<path d="M1411 244 L1442 288" fill="none" stroke="#b4b6b9" stroke-width="6.2" stroke-linecap="butt" stroke-linejoin="round" transform="translate(-1.2 -1.2)"/>
<path d="M1411 244 L1442 288" fill="none" stroke="#e3e3e5" stroke-width="2.2" stroke-linecap="butt" stroke-linejoin="round" transform="translate(-1.92 -1.92)"/>
<rect x="1393" y="238" width="14" height="5" rx="0" fill="#222" transform="rotate(-30 1400 240)"/>
<rect x="1405" y="240" width="12" height="4" rx="0" fill="#222" transform="rotate(-30 1411 242)"/>
<path d="M1380 256 q10 4 12 16 q4 10 14 12" fill="none" stroke="#111" stroke-width="5"/>
<path d="M1386 252 q12 2 16 14" fill="none" stroke="#111" stroke-width="4"/>
<ellipse cx="1390" cy="247" rx="3" ry="3" fill="#ddd" />
<path d="M1444 394 Q1462 390 1464 372" fill="none" stroke="#7b7d81" stroke-width="11" stroke-linecap="butt" stroke-linejoin="round"/>
<path d="M1444 394 Q1462 390 1464 372" fill="none" stroke="#b4b6b9" stroke-width="6.82" stroke-linecap="butt" stroke-linejoin="round" transform="translate(-1.32 -1.32)"/>
<path d="M1444 394 Q1462 390 1464 372" fill="none" stroke="#e3e3e5" stroke-width="2.42" stroke-linecap="butt" stroke-linejoin="round" transform="translate(-2.112 -2.112)"/>
<path d="M1316 345 L1350 322 L1420 300 L1447 377 L1436 384 L1393 417 L1370 397 L1355 403 L1330 400 L1320 380 Z" fill="#131315" />
<path d="M1350 322 L1377 317 L1373 350 L1350 358 L1338 380 L1317 367 L1315 347 L1330 330 Z" fill="url(#mesh2)" />
<path d="M1320 403 L1355 403 L1355 423 L1322 423 Z" fill="#141416" />
<path d="M1373 323 L1417 307 L1423 315 L1447 377 L1433 383 L1393 417 L1370 397 L1367 350 Z" fill="url(#mesh2)" />
<path d="M1400 330 L1418 322 L1438 376 L1420 384 Z" fill="#161618" />
<path d="M1420 300 L1443 288 L1491 360 L1489 372 L1465 371 Z" fill="url(#mesh2)" />
<path d="M1465 370 L1488 372 L1467 412 L1450 407 Z" fill="url(#mesh2)" />
<path d="M1443 288 L1490 360 L1488 372" fill="none" stroke="#0c0c0c" stroke-width="2"/>
<path d="M1380 412 L1437 380 L1450 400 L1393 432 Z" fill="#252528" />
<path d="M1392 424 L1446 394" fill="none" stroke="#0f0f10" stroke-width="5" stroke-dasharray="1.5 2.5"/>
<path d="M1351 352 L1396 491 L1399 500" fill="none" stroke="#7b7d81" stroke-width="21" stroke-linecap="butt" stroke-linejoin="round"/>
<path d="M1351 352 L1396 491 L1399 500" fill="none" stroke="#b4b6b9" stroke-width="13.02" stroke-linecap="butt" stroke-linejoin="round" transform="translate(-2.52 -2.52)"/>
<path d="M1351 352 L1396 491 L1399 500" fill="none" stroke="#e3e3e5" stroke-width="4.62" stroke-linecap="butt" stroke-linejoin="round" transform="translate(-4.032 -4.032)"/>
<path d="M1082 505 L1082 416 Q1082 389 1110 389 L1352 389" fill="none" stroke="#7b7d81" stroke-width="22" stroke-linecap="butt" stroke-linejoin="round"/>
<path d="M1082 505 L1082 416 Q1082 389 1110 389 L1352 389" fill="none" stroke="#b4b6b9" stroke-width="13.64" stroke-linecap="butt" stroke-linejoin="round" transform="translate(-2.64 -2.64)"/>
<path d="M1082 505 L1082 416 Q1082 389 1110 389 L1352 389" fill="none" stroke="#e3e3e5" stroke-width="4.84" stroke-linecap="butt" stroke-linejoin="round" transform="translate(-4.224 -4.224)"/>
<path d="M1088 500 L1177 500" fill="none" stroke="#7b7d81" stroke-width="13" stroke-linecap="butt" stroke-linejoin="round"/>
<path d="M1088 500 L1177 500" fill="none" stroke="#b4b6b9" stroke-width="8.06" stroke-linecap="butt" stroke-linejoin="round" transform="translate(-1.56 -1.56)"/>
<path d="M1088 500 L1177 500" fill="none" stroke="#e3e3e5" stroke-width="2.86" stroke-linecap="butt" stroke-linejoin="round" transform="translate(-2.496 -2.496)"/>
<path d="M1086 515 L1262 516" fill="none" stroke="#7b7d81" stroke-width="20" stroke-linecap="butt" stroke-linejoin="round"/>
<path d="M1086 515 L1262 516" fill="none" stroke="#b4b6b9" stroke-width="12.4" stroke-linecap="butt" stroke-linejoin="round" transform="translate(-2.4 -2.4)"/>
<path d="M1086 515 L1262 516" fill="none" stroke="#e3e3e5" stroke-width="4.4" stroke-linecap="butt" stroke-linejoin="round" transform="translate(-3.84 -3.84)"/>
<path d="M1044 427 L1070 427" fill="none" stroke="#7b7d81" stroke-width="14" stroke-linecap="butt" stroke-linejoin="round"/>
<path d="M1044 427 L1070 427" fill="none" stroke="#b4b6b9" stroke-width="8.68" stroke-linecap="butt" stroke-linejoin="round" transform="translate(-1.68 -1.68)"/>
<path d="M1044 427 L1070 427" fill="none" stroke="#e3e3e5" stroke-width="3.08" stroke-linecap="butt" stroke-linejoin="round" transform="translate(-2.688 -2.688)"/>
<rect x="1037" y="418" width="12" height="22" rx="3" fill="#151517" />
<path d="M1047 484 L1070 484" fill="none" stroke="#7b7d81" stroke-width="14" stroke-linecap="butt" stroke-linejoin="round"/>
<path d="M1047 484 L1070 484" fill="none" stroke="#b4b6b9" stroke-width="8.68" stroke-linecap="butt" stroke-linejoin="round" transform="translate(-1.68 -1.68)"/>
<path d="M1047 484 L1070 484" fill="none" stroke="#e3e3e5" stroke-width="3.08" stroke-linecap="butt" stroke-linejoin="round" transform="translate(-2.688 -2.688)"/>
<rect x="1125" y="352" width="10" height="30" rx="2" fill="#151517" />
<path d="M1130 374 C1150 380 1160 372 1172 380" fill="none" stroke="#111" stroke-width="3"/>
<rect x="1150" y="378" width="4" height="24" rx="0" fill="#111" />
<rect x="1167" y="378" width="4" height="24" rx="0" fill="#111" />
<path d="M1140 246 L1322 258 Q1332 259 1340 266 L1368 283" fill="none" stroke="#7b7d81" stroke-width="12.5" stroke-linecap="butt" stroke-linejoin="round"/>
<path d="M1140 246 L1322 258 Q1332 259 1340 266 L1368 283" fill="none" stroke="#b4b6b9" stroke-width="7.75" stroke-linecap="butt" stroke-linejoin="round" transform="translate(-1.5 -1.5)"/>
<path d="M1140 246 L1322 258 Q1332 259 1340 266 L1368 283" fill="none" stroke="#e3e3e5" stroke-width="2.75" stroke-linecap="butt" stroke-linejoin="round" transform="translate(-2.4 -2.4)"/>
<ellipse cx="1368.5" cy="283" rx="6.5" ry="6.5" fill="#1a1a1c" />
<ellipse cx="1368.5" cy="283" rx="3" ry="3" fill="#ccc" />
<path d="M1138 224 Q1142 217 1156 218 L1300 230 Q1320 236 1322 248 L1320 253 L1140 241 Z" fill="#141416" />
<path d="M1156 218 L1300 230" fill="none" stroke="#8a8c90" stroke-width="1.2"/>
<path d="M1152 246 l10 1 l-1 10 l-9 -1 Z" fill="#c9cacc" />
<path d="M1222 268 L1331 394" fill="none" stroke="#7b7d81" stroke-width="13" stroke-linecap="butt" stroke-linejoin="round"/>
<path d="M1222 268 L1331 394" fill="none" stroke="#b4b6b9" stroke-width="8.06" stroke-linecap="butt" stroke-linejoin="round" transform="translate(-1.56 -1.56)"/>
<path d="M1222 268 L1331 394" fill="none" stroke="#e3e3e5" stroke-width="2.86" stroke-linecap="butt" stroke-linejoin="round" transform="translate(-2.496 -2.496)"/>
<path d="M1208 254 L1228 254 L1232 276 L1218 282 Z" fill="#c9cacc" />
<ellipse cx="1219" cy="264" rx="3" ry="3" fill="#777" />
<rect x="1233" y="284" width="14" height="13" rx="2" fill="#19191b" transform="rotate(40 1240 290)"/>
<ellipse cx="1331" cy="394" rx="7" ry="7" fill="#1a1a1c" />
<ellipse cx="1331" cy="394" rx="3.2" ry="3.2" fill="#ccc" />
<rect x="1183.5" y="383" width="53.5" height="24" rx="5" fill="#19191b" />
<ellipse cx="1210" cy="390" rx="3.5" ry="3.5" fill="#bbb" />
<rect x="1172.5" y="404" width="74" height="106" rx="6" fill="#1c1c1e" />
<rect x="1176" y="408" width="8" height="98" rx="3" fill="#262629" />
<rect x="1186.5" y="431" width="50" height="14.5" rx="0" fill="#0c0c0c" />
<path d="M1189 443 l5 -9 l5 9 Z" fill="#e67e22" />
<rect x="1202" y="433" width="32" height="3" rx="0" fill="#d23c2a" />
<rect x="1202" y="438" width="32" height="3" rx="0" fill="#d23c2a" />
<rect x="1186.5" y="448.5" width="52" height="17.5" rx="0" fill="#f2d21b" />
<rect x="1192" y="452" width="5" height="6" rx="0" fill="#222" />
<rect x="1204" y="452" width="5" height="6" rx="0" fill="#222" />
<rect x="1216" y="452" width="5" height="6" rx="0" fill="#222" />
<rect x="1228" y="452" width="5" height="6" rx="0" fill="#222" />
<rect x="1183.5" y="509" width="55" height="20" rx="3" fill="#151517" />
<ellipse cx="1197" cy="519" rx="3.5" ry="3.5" fill="#bbb" />
<ellipse cx="1224" cy="519" rx="3.5" ry="3.5" fill="#bbb" />
<rect x="1063" y="503" width="23.5" height="36" rx="0" fill="url(#silv)" />
<path d="M1064.5 505 L1064.5 497 Q1064.5 489 1073 489 Q1081.7 489 1081.7 497 L1081.7 505 Z" fill="#161618" />
<ellipse cx="1108" cy="619.5" rx="59" ry="59" fill="#1b1b1d" />
<ellipse cx="1108" cy="619.5" rx="40" ry="40" fill="#0d0d0e" stroke="#2a2a2d" stroke-width="1.5"/>
<ellipse cx="1108" cy="619.5" rx="27" ry="27" fill="#1a1a1c" />
<ellipse cx="1125" cy="605" rx="5" ry="10" fill="#b4cadd" transform="rotate(30 1125 605)" />
<ellipse cx="1131" cy="628" rx="3.5" ry="7" fill="#8fa6bd" transform="rotate(-50 1131 628)" />
<ellipse cx="1090" cy="640" rx="4" ry="8" fill="#3c4652" transform="rotate(40 1090 640)" />
<ellipse cx="1086" cy="610" rx="3" ry="7" fill="#3c4652" transform="rotate(-20 1086 610)" />
<ellipse cx="1108" cy="619.5" rx="48" ry="48" fill="none" stroke="#39393c" stroke-width="1.5"/>
<path d="M1060 538 L1091 541 Q1094 560 1100 575 L1116 614 Q1118 626 1108 630 Q1098 630 1094 620 L1072 572 Q1062 556 1060 538 Z" fill="#151517" />
<path d="M1074 566 L1086 562 L1094 580 L1084 586 Z" fill="#3a4048" />
<ellipse cx="1107" cy="619.5" rx="4.5" ry="4.5" fill="#ddd" />
<ellipse cx="1338" cy="581" rx="96" ry="94" fill="#1d1d1f" />
<ellipse cx="1338" cy="581" rx="91" ry="89" fill="none" stroke="#343437" stroke-width="2.5"/>
<ellipse cx="1338" cy="581" rx="94" ry="92" fill="none" stroke="#2a2a2d" stroke-width="2" stroke-dasharray="2 4"/>
<ellipse cx="1338.5" cy="577.5" rx="74" ry="72" fill="#0e0e0f" stroke="#2b2b2e" stroke-width="1.5"/>
<ellipse cx="1338.5" cy="577.5" rx="61" ry="59" fill="#96989c" />
<path d="M1300 530 q14 -12 38 -10 l6 20 l-26 18 Z" fill="#b7b9bc" />
<path d="M1352 528 l30 18 l6 34 l-30 -8 Z" fill="#a5a7aa" />
<path d="M1350 596 l36 6 l-10 22 l-26 8 Z" fill="#bfc1c4" />
<path d="M1288 590 l30 -4 l10 34 l-30 10 Z" fill="#55575a" />
<path d="M1300 620 l40 4 l4 12 l-36 0 Z" fill="#2a2a2c" />
<path d="M1346 606 q20 10 18 28 l-20 -2 Z" fill="#e4e4e6" />
<ellipse cx="1302" cy="572" rx="10" ry="12" fill="#808286" />
<ellipse cx="1302" cy="572" rx="6" ry="7" fill="#a5a7aa" />
<ellipse cx="1290" cy="560" rx="2" ry="2" fill="#ddd" />
<ellipse cx="1372" cy="548" rx="2" ry="2" fill="#ddd" />
<ellipse cx="1364" cy="596" rx="2" ry="2" fill="#ddd" />
<g fill="#121214">
<polygon points="1337.38,569.817 1359.36,521.897 1371.37,527.654 1345.48,573.7"/>
<polygon points="1345.69,574.089 1399.46,579.562 1397.53,592.417 1344.38,582.76"/>
<polygon points="1344.07,583.075 1355.32,634.377 1342.11,636.566 1335.16,584.551"/>
<polygon points="1334.75,584.357 1287.93,610.59 1281.7,599.087 1330.55,576.598"/>
<polygon points="1330.62,576.163 1290.43,541.073 1299.78,531.776 1336.93,569.891"/>
</g>
<g stroke="#2c2c2f" stroke-width="1">
<line x1="1343.8" y1="566.7" x2="1365.1" y2="525.5"/>
<line x1="1350.4" y1="579.2" x2="1397.9" y2="585.9"/>
<line x1="1340.5" y1="589.3" x2="1348.6" y2="634.7"/>
<line x1="1327.9" y1="583.1" x2="1285.4" y2="604.5"/>
<line x1="1329.9" y1="569.1" x2="1295.6" y2="537.0"/>
</g>
<ellipse cx="1338.5" cy="577.5" rx="67.5" ry="65.5" fill="none" stroke="#0e0e0f" stroke-width="14"/>
<ellipse cx="1338.5" cy="577.5" rx="61" ry="59" fill="none" stroke="#242427" stroke-width="1.5"/>
<ellipse cx="1338.5" cy="577.5" rx="13" ry="13" fill="#19191b" />
<ellipse cx="1337.5" cy="576.5" rx="9" ry="9" fill="#27272a" />
<ellipse cx="1440" cy="594" rx="10" ry="10" fill="#161618" />
<path d="M1434 598 L1444 594 L1460 616 L1450 624 Z" fill="#c9cacc" />
<ellipse cx="1453" cy="620" rx="15" ry="15" fill="#161618" />
<ellipse cx="1450" cy="621" rx="3" ry="3" fill="#bbb" />
</g>
<g id="chair3">
<g opacity="0.6">
<ellipse cx="1240" cy="1300" rx="90" ry="30" fill="#f2f6fb" filter="url(#blur6)"/>
</g>
<rect x="1122" y="1100" width="27" height="172" rx="12" fill="url(#tread)" />
<rect x="1311" y="1099" width="29" height="173" rx="12" fill="url(#tread)" />
<path d="M1170 884 L1284 880 L1290 1042 L1166 1042 Z" fill="#131315" />
<path d="M1172 950 L1180 930 L1200 960 L1200 1005 L1174 1010 Z" fill="url(#mesh)" />
<path d="M1282 950 L1276 930 L1254 960 L1252 1005 L1284 1010 Z" fill="url(#mesh)" />
<rect x="1146" y="1041" width="165" height="112" rx="6" fill="#1a1a1c" />
<rect x="1146" y="1041" width="165" height="7" rx="4" fill="#262629" />
<path d="M1218 1089 L1243.6 1089 L1243.6 1153 L1262 1153 L1262 1166 L1202 1166 L1202 1154 L1218 1154 Z" fill="#c3d8ea" />
<path d="M1224 1085 Q1246 1100 1238 1125 Q1230 1140 1218 1140" fill="none" stroke="#0e0e0f" stroke-width="6"/>
<path d="M1163.5 932 L1163.5 1031" fill="none" stroke="#5f6165" stroke-width="13" stroke-linecap="butt" stroke-linejoin="round"/>
<path d="M1163.5 932 L1163.5 1031" fill="none" stroke="#96989c" stroke-width="8.06" stroke-linecap="butt" stroke-linejoin="round" transform="translate(-1.56 -1.56)"/>
<path d="M1163.5 932 L1163.5 1031" fill="none" stroke="#c8c9cb" stroke-width="2.86" stroke-linecap="butt" stroke-linejoin="round" transform="translate(-2.496 -2.496)"/>
<path d="M1289 925 L1289 1029" fill="none" stroke="#5f6165" stroke-width="13" stroke-linecap="butt" stroke-linejoin="round"/>
<path d="M1289 925 L1289 1029" fill="none" stroke="#96989c" stroke-width="8.06" stroke-linecap="butt" stroke-linejoin="round" transform="translate(-1.56 -1.56)"/>
<path d="M1289 925 L1289 1029" fill="none" stroke="#c8c9cb" stroke-width="2.86" stroke-linecap="butt" stroke-linejoin="round" transform="translate(-2.496 -2.496)"/>
<rect x="1155" y="918" width="18" height="16" rx="3" fill="#19191b" />
<rect x="1281" y="912" width="17" height="16" rx="3" fill="#19191b" />
<path d="M1160 896 L1166 920" fill="none" stroke="#7b7d81" stroke-width="10" stroke-linecap="butt" stroke-linejoin="round"/>
<path d="M1160 896 L1166 920" fill="none" stroke="#b4b6b9" stroke-width="6.2" stroke-linecap="butt" stroke-linejoin="round" transform="translate(-1.2 -1.2)"/>
<path d="M1160 896 L1166 920" fill="none" stroke="#e3e3e5" stroke-width="2.2" stroke-linecap="butt" stroke-linejoin="round" transform="translate(-1.92 -1.92)"/>
<path d="M1290 890 L1288 914" fill="none" stroke="#7b7d81" stroke-width="9" stroke-linecap="butt" stroke-linejoin="round"/>
<path d="M1290 890 L1288 914" fill="none" stroke="#b4b6b9" stroke-width="5.58" stroke-linecap="butt" stroke-linejoin="round" transform="translate(-1.08 -1.08)"/>
<path d="M1290 890 L1288 914" fill="none" stroke="#e3e3e5" stroke-width="1.98" stroke-linecap="butt" stroke-linejoin="round" transform="translate(-1.728 -1.728)"/>
<rect x="1152" y="1020" width="8" height="10" rx="0" fill="#111" />
<rect x="1292" y="1018" width="8" height="10" rx="0" fill="#111" />
<path d="M1186 990 q6 20 -2 40 q-4 20 6 36" fill="none" stroke="#b03030" stroke-width="2.5"/>
<path d="M1192 980 q10 24 0 50 q-6 20 4 40" fill="none" stroke="#0c0c0c" stroke-width="3"/>
<path d="M1240 1020 q20 -6 30 14" fill="none" stroke="#0c0c0c" stroke-width="3"/>
<path d="M1178 883 L1266.5 1170" fill="none" stroke="#85878b" stroke-width="12"/>
<path d="M1178 883 L1266.5 1170" fill="none" stroke="#cbcdd0" stroke-width="10"/>
<path d="M1178 883 L1266.5 1170" fill="none" stroke="#e4e5e7" stroke-width="3.6" transform="translate(-1.8 0)"/>
<path d="M1268 878 L1191 1170" fill="none" stroke="#85878b" stroke-width="12"/>
<path d="M1268 878 L1191 1170" fill="none" stroke="#cbcdd0" stroke-width="10"/>
<path d="M1268 878 L1191 1170" fill="none" stroke="#e4e5e7" stroke-width="3.6" transform="translate(-1.8 0)"/>
<ellipse cx="1227" cy="1033" rx="3" ry="3" fill="#777" />
<path d="M1185 880 L1203 971 L1215 992 L1240 995 L1248 982 L1268 880 L1242 880 L1232 948 L1226 962 L1214 880 Z" fill="url(#mesh2)" />
<path d="M1214 884 L1226 962 L1232 948 L1240 890 Z" fill="#0b0b0c" />
<path d="M1185 880 L1203 971 L1215 992 L1240 995 L1248 982 L1268 880" fill="none" stroke="#2e2e31" stroke-width="1.5"/>
<path d="M1176 872 Q1178 856 1196 856 Q1212 858 1214 876 L1212 884 L1186 884 Z" fill="#141416" />
<path d="M1232 876 Q1236 852 1256 852 Q1274 856 1274 878 L1268 884 L1240 884 Z" fill="#141416" />
<rect x="1138" y="865" width="37" height="26" rx="7" fill="#19191b" />
<rect x="1143" y="888" width="18" height="7" rx="0" fill="#4a4b4e" />
<rect x="1277" y="858" width="36" height="30" rx="7" fill="#19191b" />
<rect x="1292" y="886" width="20" height="8" rx="0" fill="#4a4b4e" />
<ellipse cx="1164" cy="890" rx="7.5" ry="7.5" fill="#c9cacc" />
<ellipse cx="1164" cy="890" rx="5" ry="5" fill="#222" />
<ellipse cx="1181" cy="871" rx="8" ry="7" fill="#151517" />
<ellipse cx="1269" cy="868" rx="8" ry="8" fill="#151517" />
<ellipse cx="1288" cy="884" rx="7" ry="6" fill="#151517" />
<path d="M1174 1032 Q1177 1040 1177.5 1060 L1177.5 1200" fill="none" stroke="#7b7d81" stroke-width="13" stroke-linecap="butt" stroke-linejoin="round"/>
<path d="M1174 1032 Q1177 1040 1177.5 1060 L1177.5 1200" fill="none" stroke="#b4b6b9" stroke-width="8.06" stroke-linecap="butt" stroke-linejoin="round" transform="translate(-1.56 -1.56)"/>
<path d="M1174 1032 Q1177 1040 1177.5 1060 L1177.5 1200" fill="none" stroke="#e3e3e5" stroke-width="2.86" stroke-linecap="butt" stroke-linejoin="round" transform="translate(-2.496 -2.496)"/>
<path d="M1282 1030 Q1279 1040 1280 1060 L1284 1200" fill="none" stroke="#7b7d81" stroke-width="15" stroke-linecap="butt" stroke-linejoin="round"/>
<path d="M1282 1030 Q1279 1040 1280 1060 L1284 1200" fill="none" stroke="#b4b6b9" stroke-width="9.3" stroke-linecap="butt" stroke-linejoin="round" transform="translate(-1.8 -1.8)"/>
<path d="M1282 1030 Q1279 1040 1280 1060 L1284 1200" fill="none" stroke="#e3e3e5" stroke-width="3.3" stroke-linecap="butt" stroke-linejoin="round" transform="translate(-2.88 -2.88)"/>
<ellipse cx="1177" cy="1087" rx="7" ry="7" fill="#222" />
<ellipse cx="1177" cy="1087" rx="4.5" ry="4.5" fill="#ddd" />
<rect x="1173" y="1086" width="8" height="2" rx="0" fill="#222" />
<ellipse cx="1173" cy="1152" rx="4.5" ry="4.5" fill="#111" />
<ellipse cx="1281" cy="1087" rx="7" ry="7" fill="#222" />
<ellipse cx="1281" cy="1087" rx="4.5" ry="4.5" fill="#ddd" />
<rect x="1277" y="1086" width="8" height="2" rx="0" fill="#222" />
<ellipse cx="1285" cy="1152" rx="4.5" ry="4.5" fill="#111" />
<rect x="1190" y="1162" width="48" height="54" rx="4" fill="#121214" />
<rect x="1222" y="1174" width="52" height="52" rx="5" fill="#131315" />
<rect x="1220" y="1177" width="13" height="49" rx="3" fill="url(#silh)" />
<rect x="1243" y="1186" width="19" height="32" rx="0" fill="#d9dcdf" />
<rect x="1245" y="1189" width="15" height="1.5" rx="0" fill="#666" />
<rect x="1245" y="1194" width="15" height="1.5" rx="0" fill="#666" />
<rect x="1245" y="1199" width="15" height="1.5" rx="0" fill="#666" />
<rect x="1245" y="1204" width="15" height="1.5" rx="0" fill="#666" />
<rect x="1245" y="1209" width="15" height="1.5" rx="0" fill="#666" />
<rect x="1245" y="1214" width="15" height="1.5" rx="0" fill="#666" />
<path d="M1208 1210 q10 30 32 34" fill="none" stroke="#0c0c0c" stroke-width="4"/>
<rect x="1181" y="1164" width="21" height="14" rx="6" fill="#c9cacc" />
<ellipse cx="1195" cy="1171" rx="3" ry="3" fill="#777" />
<rect x="1260" y="1164" width="19" height="14" rx="6" fill="#c9cacc" />
<ellipse cx="1266" cy="1171" rx="3" ry="3" fill="#777" />
<path d="M1168 1196 L1186 1196 L1184 1250 L1170 1236 Z" fill="#b9bbbe" />
<path d="M1276 1196 L1292 1196 L1290 1232 L1280 1250 Z" fill="#b9bbbe" />
<rect x="1143" y="1160" width="23" height="37" rx="0" fill="url(#silv)" />
<path d="M1145 1162 L1145 1154 Q1145 1145 1154.5 1145 Q1164 1145 1164 1154 L1164 1162 Z" fill="#161618" />
<rect x="1297" y="1160" width="22" height="37" rx="0" fill="url(#silv)" />
<path d="M1298 1162 L1298 1153 Q1298 1144 1308 1144 Q1318 1144 1318 1153 L1318 1162 Z" fill="#161618" />
<rect x="1135" y="1210" width="28" height="122" rx="13" fill="#1a1a1c" />
<rect x="1144" y="1218" width="9" height="106" rx="4" fill="#252528" />
<rect x="1302" y="1208" width="35" height="120" rx="15" fill="#1a1a1c" />
<rect x="1320" y="1222" width="12" height="94" rx="6" fill="#0e0e0f" />
<path d="M1124 1290 L1128 1230 Q1132 1200 1150 1196 L1166 1196 Q1178 1204 1180 1240 L1176 1290 L1170 1290 L1168 1232 Q1166 1212 1154 1210 Q1140 1212 1136 1232 L1132 1290 Z" fill="#121214" />
<path d="M1287 1286 L1290 1232 Q1292 1202 1306 1196 L1322 1196 Q1338 1204 1342 1236 L1346 1286 L1340 1286 L1334 1236 Q1330 1212 1318 1210 Q1302 1212 1298 1236 L1294 1286 Z" fill="#121214" />
<rect x="1122" y="1270" width="58" height="3" rx="0" fill="#bbb" />
<rect x="1290" y="1266" width="56" height="3" rx="0" fill="#bbb" />
</g>
<g id="dims">
<path class="dl" d="M748 395 L774 395"/>
<path class="dl" d="M760.5 395 L760.5 474"/>
<path class="dl" d="M760.5 565 L760.5 652"/>
<path class="dl" d="M748 652 L774 652"/>
<path class="dl" d="M880.5 350.5 L915.5 350.5"/>
<path class="dl" d="M898 350 L898 623"/>
<path class="dl" d="M898 684 L898 1024"/>
<path class="dl" d="M881 1024 L915 1024"/>
<path class="dl" d="M969 215 L996.5 215"/>
<path class="dl" d="M982.5 215 L982.5 399"/>
<path class="dl" d="M982.5 441.5 L982.5 672"/>
<path class="dl" d="M968 672 L996 672"/>
<path class="dl" d="M1048 169 L1048 193"/>
<path class="dl" d="M1048 181 L1197 181"/>
<path class="dl" d="M1313 181 L1466 181"/>
<path class="dl" d="M1466 169 L1466 193"/>
<path class="dl" d="M1438 637 L1463 637"/>
<path class="dl" d="M1451.5 637 L1451.5 675"/>
<path class="dl" d="M1438 675 L1463 675"/>
<path class="dl" d="M1122.5 1373 L1122.5 1397"/>
<path class="dl" d="M1122.5 1384.5 L1188 1384.5"/>
<path class="dl" d="M1290.5 1384.5 L1350 1384.5"/>
<path class="dl" d="M1350 1373 L1350 1397"/>
<path class="dl" d="M66.5 947 L92 947"/>
<path class="dl" d="M80 947 L80 1057"/>
<path class="dl" d="M173.3 1047.2 L164 1071.2"/>
<path class="dl" d="M169.3 1059.2 L246.7 1067.5"/>
<path class="dl" d="M388 1082 L477.5 1089.6"/>
<path class="dl" d="M483 1079.4 L474 1102.5"/>
<path class="dl" d="M345.3 1128.5 L345.3 1155"/>
<path class="dl" d="M345.3 1140 L489.5 1124.4"/>
<path class="dl" d="M635 1109.4 L776 1094.4"/>
<path class="dl" d="M776 1080 L776 1105.5"/>
<path class="dl" d="M300 512 L325.3 512"/>
<path class="dl" d="M312.5 512 L312.5 656"/>
<path class="dl" d="M226 645 L226 670"/>
<path class="dl" d="M226 654 L473 661"/>
<path class="dl" d="M477 648.7 L470 662"/>
<path class="dl" d="M473 661 L681 656"/>
<path class="dl" d="M681 644.7 L681 668"/>
<path class="dl" d="M473 661 L475 1057"/>
<path class="dl" d="M462.5 1057 L486.5 1057"/>
<path class="dl" d="M458.6 976.5 L458.6 1000.5"/>
<path class="dl" d="M458.6 988.5 L566 980.4"/>
<path class="dl" d="M566 967.5 L566 991.5"/>
<path class="dl" d="M630.5 909 L630.5 933"/>
<path class="dl" d="M630.5 920.4 L776 909"/>
<path class="dl" d="M776 897 L776 922"/>
<g><rect class="pill" x="145" y="545" width="134" height="44" rx="21.0"/><text class="wt" x="166" y="581" textLength="92" lengthAdjust="spacingAndGlyphs">19cm</text></g>
<g><rect class="pill" x="274" y="671.5" width="132.5" height="46.5" rx="22.25"/><text class="wt" x="295.5" y="707" textLength="92" lengthAdjust="spacingAndGlyphs">44cm</text></g>
<g><rect class="pill" x="505" y="672" width="135" height="45" rx="21.5"/><text class="wt" x="527" y="708" textLength="92" lengthAdjust="spacingAndGlyphs">40cm</text></g>
<g><rect class="pill" x="303" y="836" width="132" height="45" rx="21.5"/><text class="wt" x="323" y="872" textLength="92" lengthAdjust="spacingAndGlyphs">48cm</text></g>
<g><rect class="pill" x="30" y="881" width="126.5" height="46" rx="22.0"/><text class="wt" x="49" y="916" textLength="92" lengthAdjust="spacingAndGlyphs">14cm</text></g>
<g transform="rotate(-3.5 740.0 867.0)"><rect class="pill" x="667" y="844.5" width="146" height="45" rx="21.5"/><text class="wt" x="703" y="880.5" textLength="91" lengthAdjust="spacingAndGlyphs">29cm</text></g>
<g transform="rotate(-3.5 598.5 1018.0)"><rect class="pill" x="537" y="995" width="123" height="46" rx="22.0"/><text class="wt" x="558" y="1032" textLength="92" lengthAdjust="spacingAndGlyphs">17cm</text></g>
<text class="bt" x="718" y="550" textLength="92" lengthAdjust="spacingAndGlyphs">38cm</text>
<text class="bt" x="857.5" y="662.5" textLength="92" lengthAdjust="spacingAndGlyphs">88cm</text>
<text class="bt" x="933" y="427" textLength="92" lengthAdjust="spacingAndGlyphs">68cm</text>
<text class="bt" x="1209.5" y="195.3" textLength="90.5" lengthAdjust="spacingAndGlyphs">69cm</text>
<text class="bt" x="1397.5" y="715" textLength="69.5" lengthAdjust="spacingAndGlyphs">4cm</text>
<text class="bt" x="1191" y="1394.5" textLength="87.5" lengthAdjust="spacingAndGlyphs">35cm</text>
<text class="bt" x="270.5" y="1084" textLength="90" lengthAdjust="spacingAndGlyphs" transform="rotate(5.2 270.5 1084)">60cm</text>
<text class="bt" x="521" y="1131.5" textLength="89" lengthAdjust="spacingAndGlyphs" transform="rotate(-5.3 521 1131.5)">93cm</text>
</g>
</svg>
</body></html>
